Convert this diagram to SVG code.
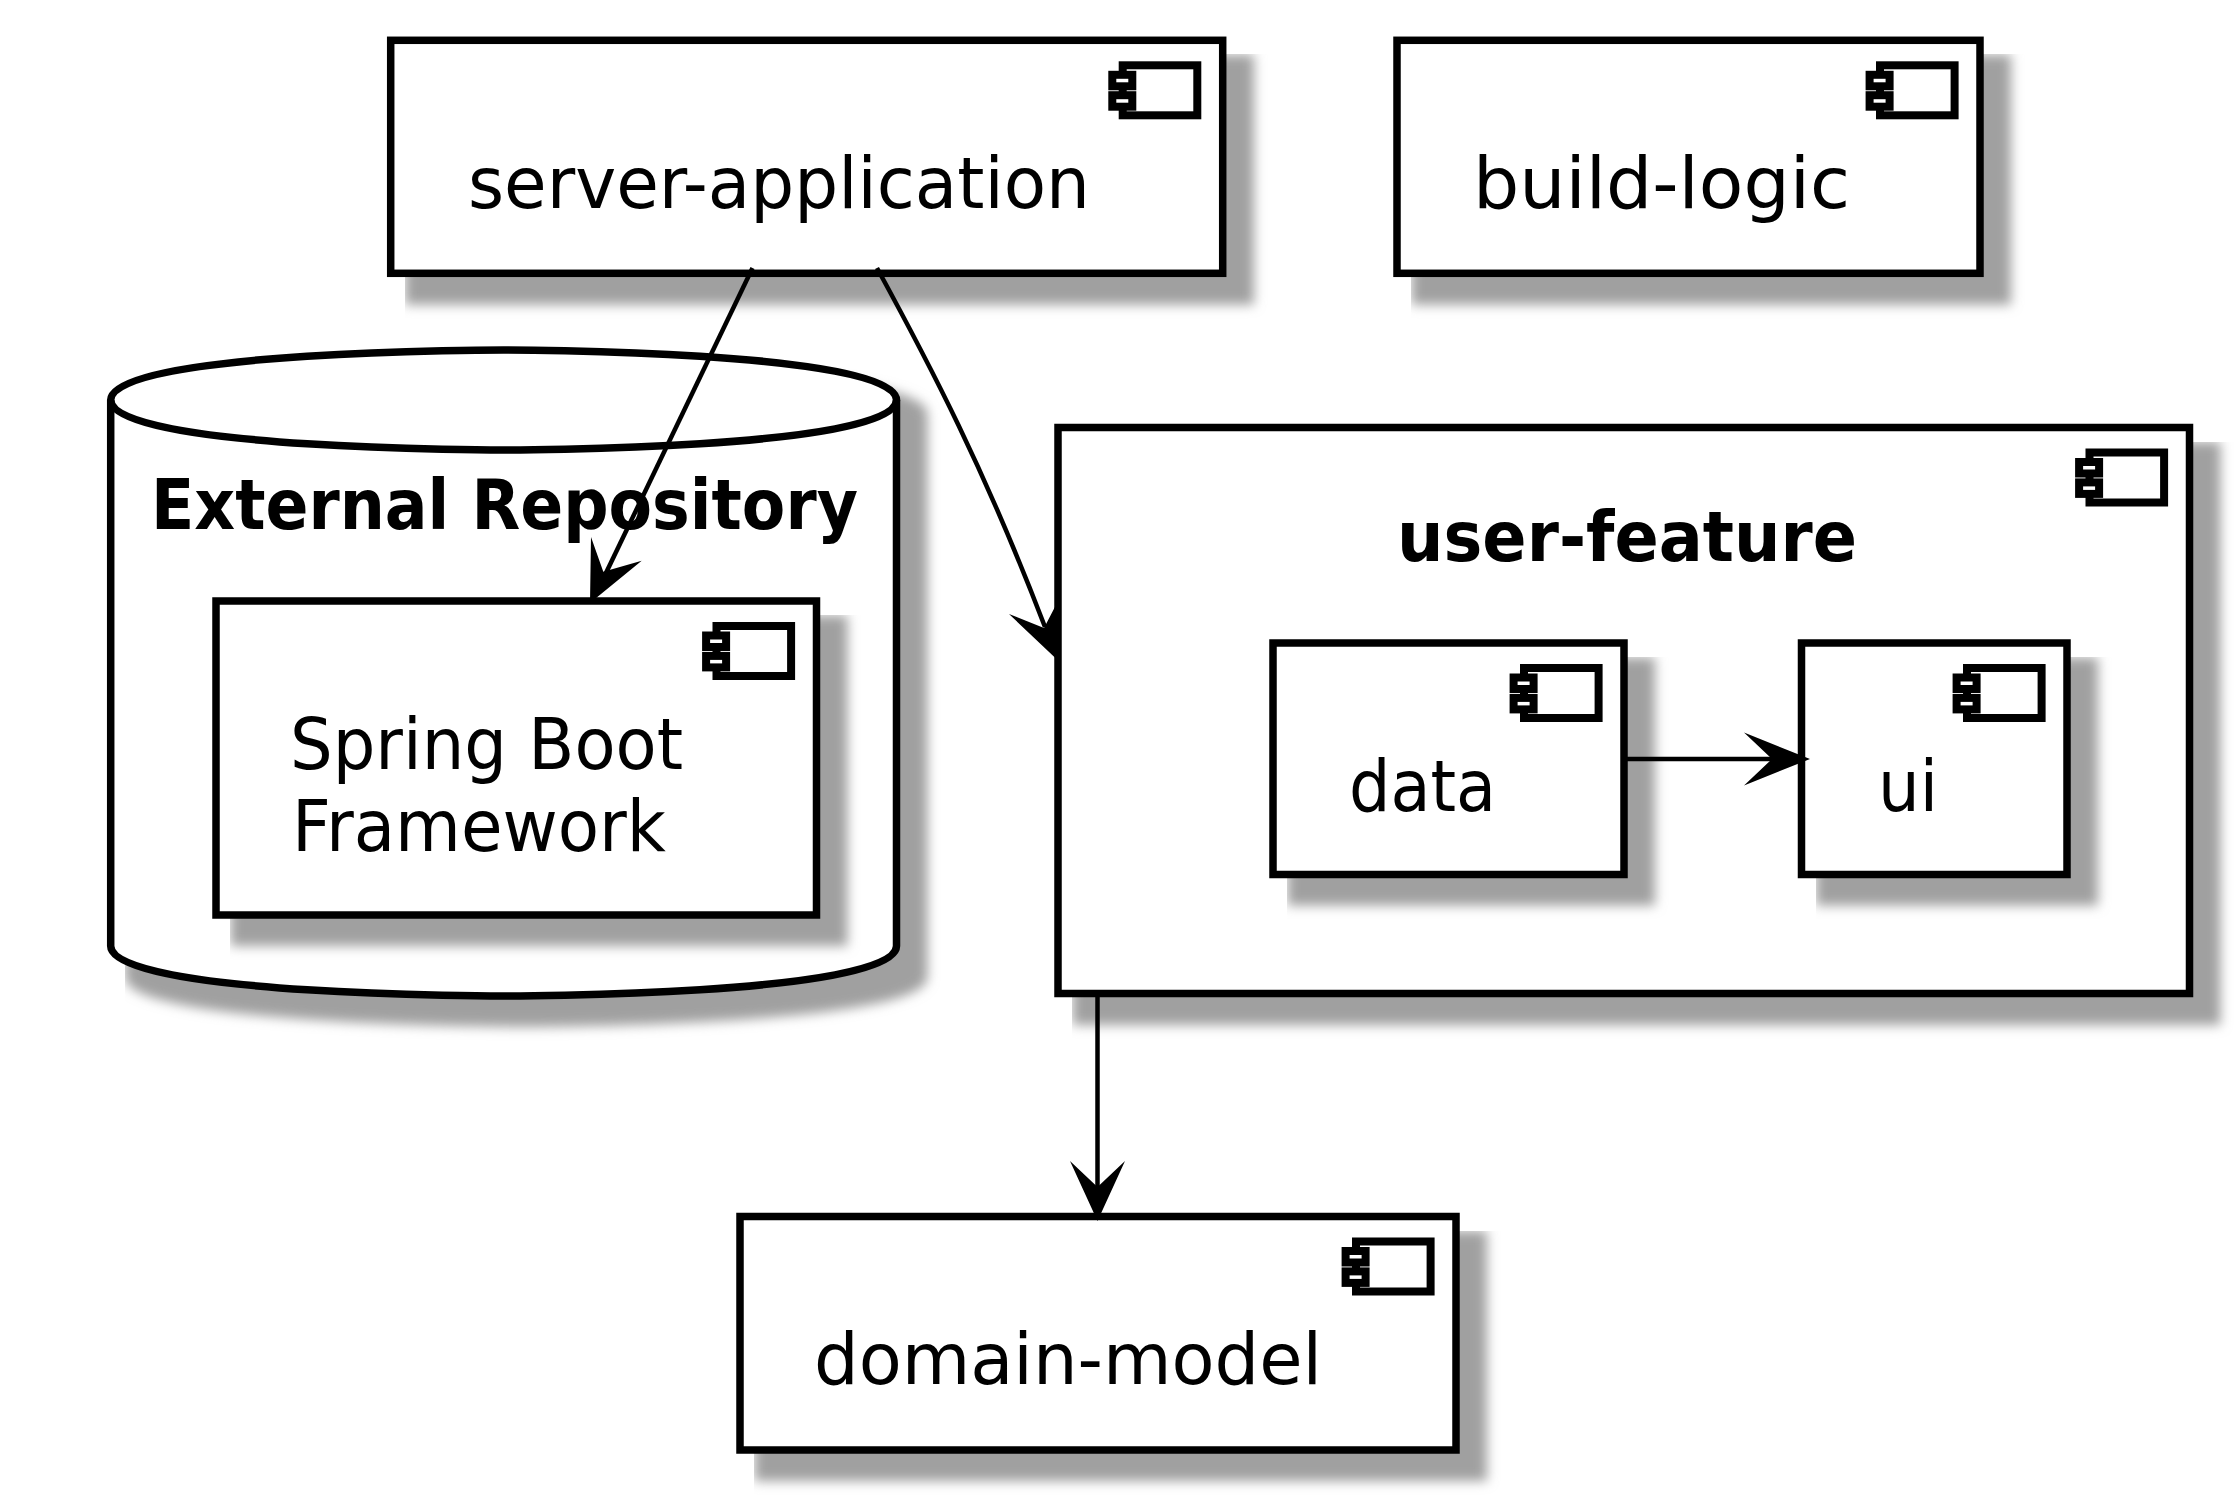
<svg xmlns="http://www.w3.org/2000/svg" width="2239" height="1500" viewBox="0 0 2239 1500">
<style>
.b{fill:#fff;stroke:#000;stroke-width:7.5}
.i{fill:#fff;stroke:#000;stroke-width:8}
.s{fill:#a0a0a0;filter:url(#sh)}
.t{font-family:"DejaVu Sans",sans-serif;font-size:72px;fill:#000}
.h{font-family:"DejaVu Sans",sans-serif;font-size:70px;font-weight:bold;fill:#000}
.c{fill:none;stroke:#000;stroke-width:4.5}
.a{fill:#000;stroke:none}
</style>
<defs>
<filter id="sh" x="0" y="0" width="1.2" height="1.4"><feGaussianBlur stdDeviation="6"/></filter>
<g id="ic"><rect class="i" x="-100" y="25" width="74.600" height="50"/><rect class="i" x="-110.400" y="34.500" width="20" height="11.500"/><rect class="i" x="-110.400" y="54.900" width="20" height="11.500"/></g>
</defs>
<rect width="2239" height="1500" fill="#fff"/>
<g id="server-application"><rect class="s" x="405" y="54.700" width="849" height="250"/><rect class="b" x="390.700" y="40.300" width="832" height="233"/><use href="#ic" x="1222.700" y="40.300"/><text class="t" x="468" y="208" textLength="622" lengthAdjust="spacingAndGlyphs">server-application</text></g>
<g id="build-logic"><rect class="s" x="1411.500" y="54.700" width="599.500" height="250"/><rect class="b" x="1397" y="40.300" width="583" height="233"/><use href="#ic" x="1980" y="40.300"/><text class="t" x="1473" y="208" textLength="377" lengthAdjust="spacingAndGlyphs">build-logic</text></g>
<g id="external-repository"><path class="s" d="M125 414C125 364 523.700 364 523.700 364C523.700 364 927.500 364 927.500 414V977C927.500 1027 523.700 1027 523.700 1027C523.700 1027 125 1027 125 977Z"/><path class="b" d="M110.700 400C110.700 350 503.600 350 503.600 350C503.600 350 896.500 350 896.500 400V946C896.500 996 503.600 996 503.600 996C503.600 996 110.700 996 110.700 946Z"/><path class="b" style="fill:none" d="M110.700 400C110.700 450 503.600 450 503.600 450C503.600 450 896.500 450 896.500 400"/><text class="h" x="151" y="529" textLength="707" lengthAdjust="spacingAndGlyphs">External Repository</text></g>
<g id="spring-boot"><rect class="s" x="230.500" y="615.500" width="617" height="330.500"/><rect class="b" x="216" y="601" width="600.500" height="314"/><use href="#ic" x="816.500" y="601"/><text class="t" x="290" y="769" textLength="393" lengthAdjust="spacingAndGlyphs">Spring Boot</text><text class="t" x="292" y="851" textLength="374" lengthAdjust="spacingAndGlyphs">Framework</text></g>
<g id="user-feature"><rect class="s" x="1072.500" y="442" width="1148" height="583"/><rect class="b" x="1058" y="427.500" width="1131.500" height="566"/><use href="#ic" x="2189.500" y="427.500"/><text class="h" x="1397" y="561" textLength="460" lengthAdjust="spacingAndGlyphs">user-feature</text></g>
<g id="data"><rect class="s" x="1287.500" y="657.500" width="367.500" height="248"/><rect class="b" x="1273" y="643" width="351" height="231.500"/><use href="#ic" x="1624" y="643"/><text class="t" x="1349" y="811" textLength="147" lengthAdjust="spacingAndGlyphs">data</text></g>
<g id="ui"><rect class="s" x="1816" y="657.500" width="282" height="248"/><rect class="b" x="1801.500" y="643" width="265.500" height="231.500"/><use href="#ic" x="2067" y="643"/><text class="t" x="1878" y="811" textLength="60" lengthAdjust="spacingAndGlyphs">ui</text></g>
<g id="domain-model"><rect class="s" x="754.500" y="1231" width="732.500" height="250"/><rect class="b" x="740" y="1216.500" width="716" height="233.500"/><use href="#ic" x="1456" y="1216.500"/><text class="t" x="814" y="1384" textLength="508" lengthAdjust="spacingAndGlyphs">domain-model</text></g>
<g id="connectors">
<path class="c" d="M752.500 268L605 575"/><polygon class="a" points="590,603 591,537 603.300,571.700 641.700,560.700"/>
<path class="c" d="M877 268C930 365 985 470 1045 627"/><polygon class="a" points="1057.500,660 1009,614 1044,628 1057,603"/>
<path class="c" d="M1624 759H1780"/><polygon class="a" points="1810,759 1744,732.500 1772,759 1744,785.500"/>
<path class="c" d="M1097.500 993V1190"/><polygon class="a" points="1097.500,1221 1070,1161 1097.500,1187 1125,1161"/>
</g>
</svg>
